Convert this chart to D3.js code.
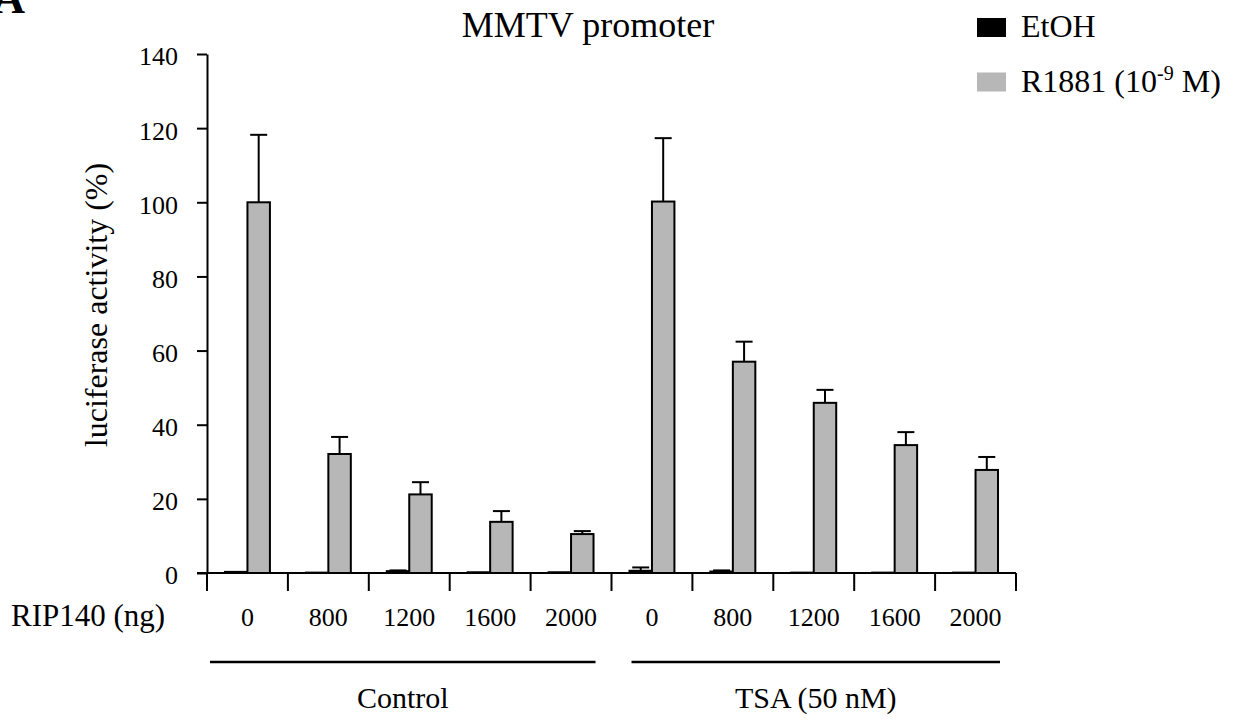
<!DOCTYPE html>
<html>
<head>
<meta charset="utf-8">
<script src="https://cdn.jsdelivr.net/npm/d3@7"></script>
<style>
  body { margin: 0; background: #fff; }
  svg, svg text { font-family: "Liberation Serif", "Times New Roman", Times, serif; }
  .axis path, .axis line { stroke: #000; stroke-width: 2; }
  .axis text { fill: #000; }
</style>
</head>
<body>
<div id="chart"></div>
<script>
// data
var groups = ["Control", "TSA (50 nM)"]
var doses = ["0", "800", "1200", "1600", "2000"]
var seriesNames = ["EtOH", "R1881"]
var etohValues = [0.3, 0.1, 0.5, 0.2, 0.2, 0.6, 0.4, 0.1, 0.1, 0.1]
var etohErrors = [0, 0, 0.2, 0, 0, 0.9, 0.3, 0, 0, 0]
var r1881Values = [100, 32.1, 21.2, 13.8, 10.5, 100.2, 57, 45.9, 34.5, 27.8]
var r1881Errors = [18.2, 4.6, 3.3, 2.9, 0.8, 17.1, 5.4, 3.5, 3.5, 3.5]
var yTicks = [0, 20, 40, 60, 80, 100, 120, 140]

var width = 1237, height = 724
var svg = d3.select("#chart").append("svg")
  .attr("width", width)
  .attr("height", height)
  .attr("font-family", "Liberation Serif, Times New Roman, serif")

// one slot per (group, dose)
var keys = []
groups.forEach(function(g, gi){
  doses.forEach(function(d, di){
    keys.push({ key: g + "|" + d, group: g, dose: d, idx: gi * doses.length + di })
  })
})

var x0 = d3.scaleBand().domain(keys.map(function(k){ return k.key })).range([207, 1016]).padding(0)
var x1 = d3.scaleBand().domain(seriesNames).range([0, x0.bandwidth()]).paddingInner(0).paddingOuter(0.8)
var y = d3.scaleLinear().domain([0, 140]).range([573, 54])

var fills = { EtOH: "#000", R1881: "#b7b7b7" }

// partial panel letter at the top-left corner (cut off in the figure)
svg.append("text")
  .attr("x", 25).attr("y", 13)
  .attr("text-anchor", "end")
  .attr("font-size", 44).attr("font-weight", "bold")
  .text("A")

// title
svg.append("text")
  .attr("x", 588).attr("y", 37)
  .attr("text-anchor", "middle")
  .attr("font-size", 36)
  .text("MMTV promoter")

// y axis
var yAxis = d3.axisLeft(y).tickValues(yTicks).tickSize(10).tickPadding(19).tickSizeOuter(0)
var gy = svg.append("g").attr("class", "axis").attr("transform", "translate(207,0)").call(yAxis)
gy.attr("font-family", null)
gy.selectAll("text").attr("font-size", 26).attr("dy", "0.42em")

// y axis runs on down to the first x tick
svg.append("line")
  .attr("x1", 207).attr("x2", 207)
  .attr("y1", y(0)).attr("y2", y(0) + 18)
  .attr("stroke", "#000").attr("stroke-width", 2)

svg.append("text")
  .attr("transform", "translate(107," + 305 + ") rotate(-90)")
  .attr("text-anchor", "middle")
  .attr("font-size", 32)
  .text("luciferase activity (%)")

// bars
var rows = keys.map(function(k){
  return [
    { key: k.key, name: "EtOH", value: etohValues[k.idx], err: etohErrors[k.idx] },
    { key: k.key, name: "R1881", value: r1881Values[k.idx], err: r1881Errors[k.idx] }
  ]
})
var flat = [].concat.apply([], rows)

svg.append("g").selectAll("rect")
  .data(flat)
  .enter().append("rect")
  .attr("x", function(d){ return x0(d.key) + x1(d.name) })
  .attr("y", function(d){ return y(d.value) })
  .attr("width", x1.bandwidth())
  .attr("height", function(d){ return y(0) - y(d.value) })
  .attr("fill", function(d){ return fills[d.name] })
  .attr("stroke", "#000")
  .attr("stroke-width", 2)

// error bars (upper side only)
var errs = svg.append("g").selectAll("g")
  .data(flat.filter(function(d){ return d.err > 0 }))
  .enter().append("g")
  .attr("stroke", "#000").attr("stroke-width", 2)

errs.append("line")
  .attr("x1", function(d){ return x0(d.key) + x1(d.name) + x1.bandwidth() / 2 })
  .attr("x2", function(d){ return x0(d.key) + x1(d.name) + x1.bandwidth() / 2 })
  .attr("y1", function(d){ return y(d.value) })
  .attr("y2", function(d){ return y(d.value + d.err) })

errs.append("line")
  .attr("x1", function(d){ return x0(d.key) + x1(d.name) + x1.bandwidth() / 2 - 8.5 })
  .attr("x2", function(d){ return x0(d.key) + x1(d.name) + x1.bandwidth() / 2 + 8.5 })
  .attr("y1", function(d){ return y(d.value + d.err) })
  .attr("y2", function(d){ return y(d.value + d.err) })

// x axis: baseline, boundary ticks, dose labels
svg.append("line")
  .attr("x1", 197).attr("x2", 1016)
  .attr("y1", y(0)).attr("y2", y(0))
  .attr("stroke", "#000").attr("stroke-width", 2)

var bounds = keys.map(function(k){ return x0(k.key) }).concat([x0.range()[1]])
svg.append("g").selectAll("line")
  .data(bounds)
  .enter().append("line")
  .attr("x1", function(d){ return d }).attr("x2", function(d){ return d })
  .attr("y1", y(0)).attr("y2", y(0) + 18)
  .attr("stroke", "#000").attr("stroke-width", 2)

var xAxis = d3.axisBottom(x0).tickSize(0).tickPadding(0)
  .tickFormat(function(k){ return k.split("|")[1] })
var gx = svg.append("g").attr("class", "axis").attr("transform", "translate(0,626)").call(xAxis)
gx.attr("font-family", null)
gx.select(".domain").remove()
gx.selectAll("text").attr("font-size", 26).attr("dy", 0)

svg.append("text")
  .attr("x", 11).attr("y", 626)
  .attr("font-size", 31)
  .text("RIP140 (ng)")

// group brackets under the axis
var groupSpans = groups.map(function(g, gi){
  var first = x0(g + "|" + doses[0])
  var last = x0(g + "|" + doses[doses.length - 1]) + x0.bandwidth()
  return { name: g, x1: first + (gi === 0 ? 3 : 20), x2: last - 16 }
})

svg.append("g").selectAll("line")
  .data(groupSpans)
  .enter().append("line")
  .attr("x1", function(d){ return d.x1 }).attr("x2", function(d){ return d.x2 })
  .attr("y1", 662).attr("y2", 662)
  .attr("stroke", "#000").attr("stroke-width", 2.5)

svg.append("g").selectAll("text")
  .data(groupSpans)
  .enter().append("text")
  .attr("x", function(d){ return (d.x1 + d.x2) / 2 })
  .attr("y", 708)
  .attr("text-anchor", "middle")
  .attr("font-size", 30)
  .text(function(d){ return d.name })

// legend
var legend = svg.append("g").selectAll("g")
  .data(seriesNames)
  .enter().append("g")
  .attr("transform", function(d, i){ return "translate(977," + (18 + i * 54.5) + ")" })

legend.append("rect")
  .attr("width", 29).attr("height", 19)
  .attr("fill", function(d){ return fills[d] })

var lt = legend.append("text")
  .attr("x", 44).attr("y", 19)
  .attr("font-size", 32)

lt.filter(function(d){ return d === "EtOH" }).text("EtOH")

var rt = lt.filter(function(d){ return d === "R1881" })
rt.append("tspan").text("R1881 (10")
rt.append("tspan").attr("dy", -12).attr("font-size", 20).text("-9")
rt.append("tspan").attr("dy", 12).text(" M)")
</script>
</body>
</html>
